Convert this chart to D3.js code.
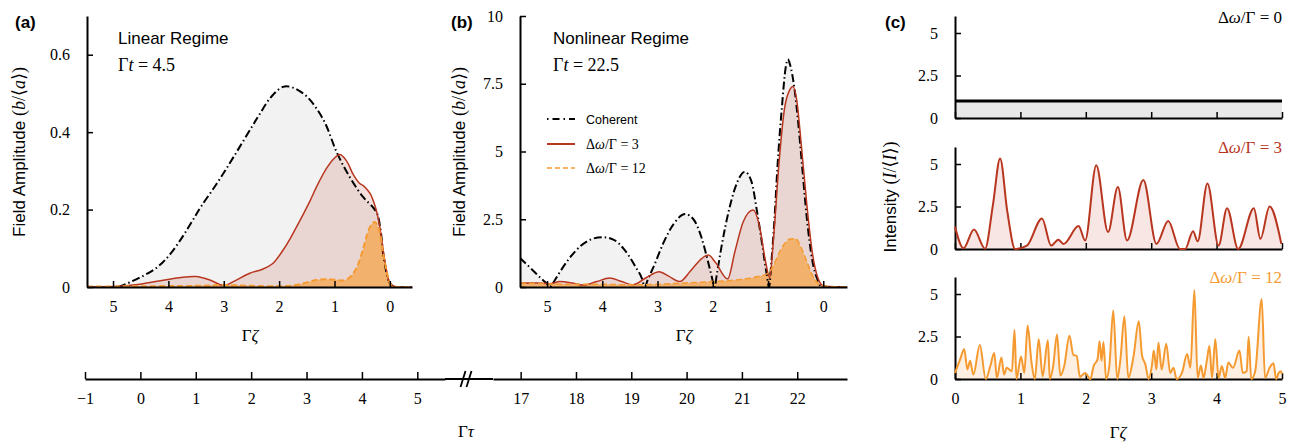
<!DOCTYPE html>
<html><head><meta charset="utf-8">
<script src="https://cdn.jsdelivr.net/npm/d3@7"></script>
<style>
body{margin:0;background:#fff;}
svg{display:block;}
</style></head>
<body>
<svg id="c" width="1297" height="443"></svg>
<script>
// ---------------- DATA ----------------
const zetaTicks = [0, 1, 2, 3, 4, 5];
const tauTicksLeft = [-1, 0, 1, 2, 3, 4, 5];
const tauTicksRight = [17, 18, 19, 20, 21, 22];
const aYTicks = [0, 0.2, 0.4, 0.6];
const bYTicks = [0, 2.5, 5, 7.5, 10];
const cYTicks = [0, 2.5, 5];
const legendLabels = ["Coherent", "3", "12"];

// Panel (a): linear regime, Γt = 4.5
const aCohZ = [5.47, 5.0, 4.87, 4.7, 4.48, 4.25, 4.1, 3.95, 3.8, 3.69, 3.55, 3.4, 3.14, 2.9, 2.72, 2.5, 2.35, 2.15, 1.93, 1.75, 1.5, 1.2, 0.95, 0.72, 0.48, 0.3, 0.23, 0.17, 0.12, 0.05, 0.0, -0.1, -0.4];
const aCohV = [0, 0, 0.002, 0.012, 0.027, 0.046, 0.064, 0.088, 0.118, 0.142, 0.175, 0.21, 0.264, 0.318, 0.36, 0.412, 0.447, 0.49, 0.517, 0.515, 0.492, 0.432, 0.345, 0.283, 0.232, 0.205, 0.19, 0.15, 0.087, 0.03, 0.01, 0, 0];
const a3Z = [5.47, 5.0, 4.6, 4.2, 3.8, 3.5, 3.25, 3.0, 2.8, 2.54, 2.3, 2.12, 1.93, 1.8, 1.63, 1.45, 1.32, 1.15, 1.02, 0.9, 0.78, 0.66, 0.55, 0.48, 0.4, 0.35, 0.28, 0.23, 0.17, 0.12, 0.05, 0.0, -0.1, -0.4];
const a3V = [0, 0.001, 0.006, 0.015, 0.024, 0.027, 0.018, 0.004, 0.016, 0.035, 0.046, 0.06, 0.095, 0.125, 0.17, 0.22, 0.26, 0.305, 0.33, 0.342, 0.325, 0.29, 0.268, 0.262, 0.25, 0.24, 0.215, 0.19, 0.145, 0.095, 0.035, 0.01, 0.001, 0];
const a12Z = [5.47, 4.5, 3.5, 3.0, 2.5, 2.0, 1.7, 1.5, 1.3, 1.1, 0.95, 0.84, 0.75, 0.66, 0.57, 0.48, 0.4, 0.33, 0.27, 0.2, 0.12, 0.05, 0.0, -0.1, -0.4];
const a12V = [0.001, 0.002, 0.003, 0.005, 0.003, 0.002, 0.005, 0.012, 0.019, 0.02, 0.018, 0.017, 0.022, 0.035, 0.06, 0.1, 0.14, 0.162, 0.168, 0.15, 0.087, 0.035, 0.01, 0.001, 0];

// Panel (b): nonlinear regime, Γt = 22.5
const bCohZ = [5.49, 5.3, 5.1, 5.0, 4.95, 4.9, 4.8, 4.6, 4.4, 4.2, 4.0, 3.8, 3.6, 3.4, 3.28, 3.23, 3.18, 3.05, 2.9, 2.7, 2.5, 2.35, 2.2, 2.1, 2.02, 1.97, 1.92, 1.85, 1.7, 1.55, 1.42, 1.3, 1.2, 1.1, 1.03, 0.98, 0.94, 0.88, 0.83, 0.75, 0.68, 0.64, 0.6, 0.52, 0.45, 0.38, 0.3, 0.2, 0.1, 0.03, -0.43];
const bCohV = [1.07, 0.7, 0.3, 0.12, 0, 0.12, 0.45, 1.05, 1.5, 1.76, 1.84, 1.75, 1.38, 0.75, 0.3, 0, 0.25, 0.85, 1.6, 2.35, 2.69, 2.5, 1.8, 1.05, 0.4, 0, 0.55, 1.4, 2.9, 3.9, 4.25, 3.9, 2.8, 1.5, 0.55, 0, 0.9, 2.6, 4.4, 6.6, 8.1, 8.4, 8.2, 7.3, 6.0, 4.4, 2.6, 1.0, 0.25, 0, 0];
const b3Z = [5.49, 5.2, 4.95, 4.77, 4.55, 4.35, 4.1, 3.87, 3.65, 3.45, 3.2, 2.97, 2.8, 2.6, 2.4, 2.2, 2.08, 1.95, 1.73, 1.6, 1.45, 1.27, 1.15, 1.05, 0.97, 0.9, 0.8, 0.7, 0.6, 0.55, 0.48, 0.4, 0.3, 0.2, 0.1, 0.0, -0.2, -0.43];
const b3V = [0.15, 0.15, 0.12, 0.2, 0.15, 0.07, 0.2, 0.33, 0.2, 0.08, 0.35, 0.56, 0.4, 0.2, 0.6, 1.05, 1.18, 0.9, 0.3, 1.3, 2.4, 2.84, 2.2, 1.0, 0.35, 1.8, 4.6, 6.6, 7.3, 7.4, 6.9, 5.3, 3.1, 1.3, 0.35, 0.05, 0.01, 0];
const b12Z = [5.49, 5.0, 4.5, 4.0, 3.5, 3.0, 2.5, 2.0, 1.5, 1.2, 1.0, 0.9, 0.8, 0.7, 0.6, 0.5, 0.4, 0.3, 0.2, 0.1, 0.0, -0.2, -0.43];
const b12V = [0.15, 0.12, 0.1, 0.1, 0.08, 0.1, 0.15, 0.2, 0.28, 0.38, 0.5, 0.8, 1.25, 1.6, 1.77, 1.78, 1.45, 0.95, 0.45, 0.15, 0.05, 0.01, 0];

// Panel (c): intensity
const c0Z = [0, 5];
const c0V = [1, 1];
const c3Z = [0, 0.13, 0.29, 0.46, 0.58, 0.69, 0.8, 0.92, 1.1, 1.33, 1.47, 1.58, 1.66, 1.89, 1.99, 2.16, 2.34, 2.49, 2.63, 2.88, 3.08, 3.26, 3.44, 3.52, 3.64, 3.71, 3.86, 4.03, 4.16, 4.33, 4.57, 4.67, 4.81, 4.99];
const c3V = [1.31, 0.05, 1.15, 0.02, 2.6, 5.33, 2.2, 0, 0.2, 1.8, 0.2, 0.55, 0.3, 1.35, 0.5, 4.93, 1.0, 3.64, 0.5, 4.06, 0.3, 1.65, 0, 0, 1.05, 0.45, 3.86, 0.2, 2.4, 0, 2.4, 0.6, 2.5, 0.3];
const c12Z = [0, 0.08, 0.14, 0.19, 0.23, 0.28, 0.38, 0.47, 0.54, 0.6, 0.64, 0.71, 0.75, 0.79, 0.87, 0.91, 0.94, 1.01, 1.06, 1.11, 1.17, 1.22, 1.28, 1.34, 1.42, 1.45, 1.5, 1.56, 1.61, 1.67, 1.75, 1.81, 1.86, 1.91, 1.99, 2.07, 2.12, 2.18, 2.21, 2.24, 2.27, 2.31, 2.36, 2.42, 2.48, 2.53, 2.59, 2.65, 2.73, 2.81, 2.86, 2.91, 2.96, 3.01, 3.04, 3.08, 3.11, 3.16, 3.23, 3.29, 3.34, 3.39, 3.47, 3.55, 3.6, 3.66, 3.71, 3.76, 3.8, 3.85, 3.89, 3.93, 3.98, 4.03, 4.08, 4.13, 4.18, 4.25, 4.35, 4.4, 4.46, 4.49, 4.53, 4.59, 4.69, 4.74, 4.81, 4.87, 4.91, 4.95, 4.98, 5.0];
const c12V = [0.36, 1.17, 1.77, 0.56, 1.07, 0.26, 2.0, 0, 0.77, 1.53, 0.06, 1.27, 0.26, 0.66, 0.46, 2.88, 0, 1.33, 0.36, 3.14, 0.97, 0, 2.34, 0.16, 2.28, 0, 0.73, 2.62, 0.2, 0.77, 2.54, 1.41, 1.37, 0.12, 0.36, 0, 0.77, 1.17, 2.22, 1.07, 2.18, 0, 0.77, 4.03, 0, 1.17, 3.69, 0.06, 1.33, 3.39, 1.37, 0.87, 0, 0.77, 1.67, 0.56, 2.14, 0.56, 2.08, 0.36, 0.66, 0, 0.36, 1.47, 0.66, 5.24, 0.06, 0.8, 0.06, 1.07, 1.94, 0.06, 2.34, 0.06, 0.77, 0.06, 0.97, 0.66, 1.67, 0.36, 0.46, 2.48, 0, 0.46, 4.7, 0.06, 0.66, 0.93, 0, 0.36, 0.46, 0.3];

// ---------------- STYLE ----------------
const RED = "#b8361f", ORANGE = "#f59a30", BLACK = "#000";
const GRAY_FILL = "#f2f2f2", RED_FILL = "rgba(184,54,31,0.15)", ORANGE_FILL = "#f2b26e";
const SERIF = '"Liberation Serif","DejaVu Serif",serif';
const SANS = '"Liberation Sans",Arial,sans-serif';
const SMOOTH = d3.curveCatmullRom.alpha(0.5);

const svg = d3.select("#c");
const zip = (xs, ys) => xs.map((x, i) => [x, ys[i]]);
let clipN = 0;

function drawAxes(g, x, y, opt) {
  const xa = d3.axisBottom(x).tickValues(opt.xMajor).tickSize(-6).tickSizeOuter(0).tickPadding(opt.xLabels ? 14 : 0)
    .tickFormat(opt.xLabels ? d3.format("d") : "");
  const xm = d3.axisBottom(x).tickValues(opt.xMinor).tickSize(-4).tickSizeOuter(0).tickFormat("");
  const gx = g.append("g").attr("transform", `translate(0,${y.range()[0]})`);
  gx.call(xm); gx.call(xa);
  const ya = d3.axisLeft(y).tickValues(opt.yMajor).tickSize(-6).tickSizeOuter(0).tickPadding(17).tickFormat(opt.yFmt);
  const ym = d3.axisLeft(y).tickValues(opt.yMinor).tickSize(-4).tickSizeOuter(0).tickFormat("");
  const gy = g.append("g").attr("transform", `translate(${x.range()[0]},0)`);
  gy.call(ym); gy.call(ya);
  [gx, gy].forEach(s => {
    s.selectAll(".domain").attr("stroke-width", 2).attr("stroke", BLACK);
    s.selectAll(".tick line").attr("stroke-width", 1.5).attr("stroke", BLACK);
    s.selectAll("text").attr("font-family", SERIF).attr("font-size", 16).attr("fill", BLACK);
  });
}

function plotArea(x, y) {
  const id = "clip" + (clipN++);
  const [x0, x1] = x.range(), [y0, y1] = y.range();
  svg.append("clipPath").attr("id", id).append("rect")
    .attr("x", x0).attr("y", y1 - 5).attr("width", x1 - x0).attr("height", y0 - y1 + 5);
  return svg.append("g").attr("clip-path", `url(#${id})`);
}

function series(g, x, y, zs, vs, fill, stroke, width, dash, curve) {
  const data = zip(zs, vs);
  const c = curve || SMOOTH;
  if (fill) g.append("path").datum(data).attr("fill", fill)
    .attr("d", d3.area().x(d => x(d[0])).y0(y(0)).y1(d => y(d[1])).curve(c));
  if (stroke) g.append("path").datum(data).attr("fill", "none").attr("stroke", stroke)
    .attr("stroke-width", width).attr("stroke-dasharray", dash || null).attr("stroke-linejoin", "round")
    .attr("d", d3.line().x(d => x(d[0])).y(d => y(d[1])).curve(c));
}

function mathText(g, x, y, parts, size, anchor, color) {
  const t = g.append("text").attr("x", x).attr("y", y).attr("font-family", SERIF).attr("font-size", size)
    .attr("text-anchor", anchor || "start").attr("fill", color || BLACK);
  parts.forEach(p => t.append("tspan").attr("font-style", p[1] ? "italic" : "normal").text(p[0]));
  return t;
}
const dwg = v => [["Δ"], ["ω", 1], ["/Γ = " + v]];

// ---------------- PANEL (a) ----------------
const ax = d3.scaleLinear().domain([5.47, -0.40]).range([87, 412]);
const ay = d3.scaleLinear().domain([0, 0.7]).range([287, 16]);
const ga = plotArea(ax, ay);
series(ga, ax, ay, aCohZ, aCohV, GRAY_FILL, null);
series(ga, ax, ay, a3Z, a3V, RED_FILL, null);
series(ga, ax, ay, a12Z, a12V, ORANGE_FILL, null);
series(ga, ax, ay, aCohZ, aCohV, null, BLACK, 2, "8,3,1.5,3");
series(ga, ax, ay, a3Z, a3V, null, RED, 1.5);
series(ga, ax, ay, a12Z, a12V, null, ORANGE, 2, "6,3");
drawAxes(svg.append("g"), ax, ay, {xMajor: zetaTicks, xMinor: [4.5, 3.5, 2.5, 1.5, 0.5], xLabels: true,
  yMajor: aYTicks, yMinor: [0.1, 0.3, 0.5, 0.7], yFmt: d => d === 0 ? "0" : d3.format(".1f")(d)});

// ---------------- PANEL (b) ----------------
const bx = d3.scaleLinear().domain([5.49, -0.43]).range([520, 847]);
const by = d3.scaleLinear().domain([0, 10]).range([287, 16]);
const gb = plotArea(bx, by);
const MONO = d3.curveMonotoneX;
series(gb, bx, by, bCohZ, bCohV, GRAY_FILL, null, 0, null, MONO);
series(gb, bx, by, b3Z, b3V, RED_FILL, null, 0, null, MONO);
series(gb, bx, by, b12Z, b12V, ORANGE_FILL, null, 0, null, MONO);
series(gb, bx, by, bCohZ, bCohV, null, BLACK, 2, "8,3,1.5,3", MONO);
series(gb, bx, by, b3Z, b3V, null, RED, 1.5, null, MONO);
series(gb, bx, by, b12Z, b12V, null, ORANGE, 1.5, "6,3", MONO);
drawAxes(svg.append("g"), bx, by, {xMajor: zetaTicks, xMinor: [4.5, 3.5, 2.5, 1.5, 0.5], xLabels: true,
  yMajor: bYTicks, yMinor: [1.25, 3.75, 6.25, 8.75], yFmt: d => d3.format("")(d)});

// legend
const lg = svg.append("g");
const legendRows = [
  {y: 119, stroke: BLACK, w: 2, dash: "1.5,4,7,4"},
  {y: 144, stroke: RED, w: 2, dash: null},
  {y: 168, stroke: ORANGE, w: 1.5, dash: "5,3"}
];
legendRows.forEach((r, i) => {
  lg.append("line").attr("x1", 547).attr("x2", 575).attr("y1", r.y).attr("y2", r.y)
    .attr("stroke", r.stroke).attr("stroke-width", r.w).attr("stroke-dasharray", r.dash);
  if (i === 0) lg.append("text").attr("x", 586).attr("y", r.y + 4.5).attr("font-family", SANS).attr("font-size", 12.5).text(legendLabels[0]);
  else mathText(lg, 586, r.y + 5, dwg(legendLabels[i]), 14);
});

// ---------------- PANEL (c) ----------------
const cx = d3.scaleLinear().domain([0, 5]).range([955, 1282]);
const subs = [
  {y0: 118, z: c0Z, v: c0V, fill: "#e8e8e8", stroke: BLACK, w: 3, lab: "0", col: BLACK, ty: 23, labels: false},
  {y0: 249, z: c3Z, v: c3V, fill: "#f7e6e3", stroke: RED, w: 2, lab: "3", col: RED, ty: 153, labels: false},
  {y0: 379, z: c12Z, v: c12V, fill: "#fdf0e2", stroke: ORANGE, w: 2, lab: "12", col: ORANGE, ty: 283, labels: true}
];
subs.forEach(s => {
  const y = d3.scaleLinear().domain([0, 6]).range([s.y0, s.y0 - 102]);
  const curve = s.z.length === 2 ? d3.curveLinear : d3.curveMonotoneX;
  const g = svg.append("g");
  series(g, cx, y, s.z, s.v, s.fill, null, 0, null, curve);
  drawAxes(g, cx, y, {xMajor: zetaTicks, xMinor: [0.5, 1.5, 2.5, 3.5, 4.5], xLabels: s.labels,
    yMajor: cYTicks, yMinor: [1.25, 3.75], yFmt: d => d3.format("")(d)});
  series(g, cx, y, s.z, s.v, null, s.stroke, s.w, null, curve);
  mathText(g, 1282, s.ty, dwg(s.lab), 17, "end", s.col);
});

// ---------------- Γτ axis ----------------
const t1 = d3.scaleLinear().domain([-1, 5.5]).range([85, 445]);
const t2 = d3.scaleLinear().domain([16.5, 22.9]).range([493, 847]);
const gt = svg.append("g").attr("transform", "translate(0,379)");
[[t1, tauTicksLeft, [-0.5, 0.5, 1.5, 2.5, 3.5, 4.5, 5.5]], [t2, tauTicksRight, [17.5, 18.5, 19.5, 20.5, 21.5, 22.5]]].forEach(([s, maj, min]) => {
  const g = gt.append("g");
  g.call(d3.axisBottom(s).tickValues(min).tickSize(-4).tickSizeOuter(0).tickFormat(""));
  g.call(d3.axisBottom(s).tickValues(maj).tickSize(-7).tickSizeOuter(0).tickPadding(14).tickFormat(d => d < 0 ? "−" + Math.abs(d) : d));
  g.selectAll(".domain").attr("stroke-width", 2);
  g.selectAll(".tick line").attr("stroke-width", 1.5);
  g.selectAll("text").attr("font-family", SERIF).attr("font-size", 16);
});
gt.append("line").attr("x1", 445).attr("x2", 493).attr("y1", 0).attr("y2", 0).attr("stroke", BLACK).attr("stroke-width", 2);
[463, 469].forEach(xx => gt.append("line").attr("x1", xx - 2.5).attr("x2", xx + 2.5).attr("y1", 8).attr("y2", -8).attr("stroke", BLACK).attr("stroke-width", 1.8));
mathText(svg, 466, 437, [["Γ"], ["τ", 1]], 17, "middle");

// ---------------- Labels ----------------
mathText(svg, 250, 341, [["Γ"], ["ζ", 1]], 17, "middle");
mathText(svg, 684, 341, [["Γ"], ["ζ", 1]], 17, "middle");
mathText(svg, 1118, 438, [["Γ"], ["ζ", 1]], 17, "middle");

[["(a)", 15], ["(b)", 451], ["(c)", 885]].forEach(([t, x]) =>
  svg.append("text").attr("x", x).attr("y", 28).attr("font-family", SANS).attr("font-weight", "bold").attr("font-size", 17).text(t));

svg.append("text").attr("x", 118).attr("y", 44).attr("font-family", SANS).attr("font-size", 17).text("Linear Regime");
mathText(svg, 118, 71, [["Γ"], ["t", 1], [" = 4.5"]], 18);
svg.append("text").attr("x", 553).attr("y", 44).attr("font-family", SANS).attr("font-size", 17).text("Nonlinear Regime");
mathText(svg, 553, 71, [["Γ"], ["t", 1], [" = 22.5"]], 18);

function yLabel(x, y, sansTxt, parts) {
  const t = svg.append("text").attr("transform", `translate(${x},${y}) rotate(-90)`).attr("text-anchor", "middle")
    .attr("font-size", 17).attr("font-family", SANS);
  t.append("tspan").text(sansTxt);
  parts.forEach(p => t.append("tspan").attr("font-family", SERIF).attr("font-size", 18).attr("font-style", p[1] ? "italic" : "normal").text(p[0]));
}
yLabel(25, 152, "Field Amplitude ", [["("], ["b", 1], ["/⟨"], ["a", 1], ["⟩)"]]);
yLabel(465, 152, "Field Amplitude ", [["("], ["b", 1], ["/⟨"], ["a", 1], ["⟩)"]]);
yLabel(896, 197, "Intensity ", [["("], ["I", 1], ["/⟨"], ["I", 1], ["⟩)"]]);
</script>
</body></html>
